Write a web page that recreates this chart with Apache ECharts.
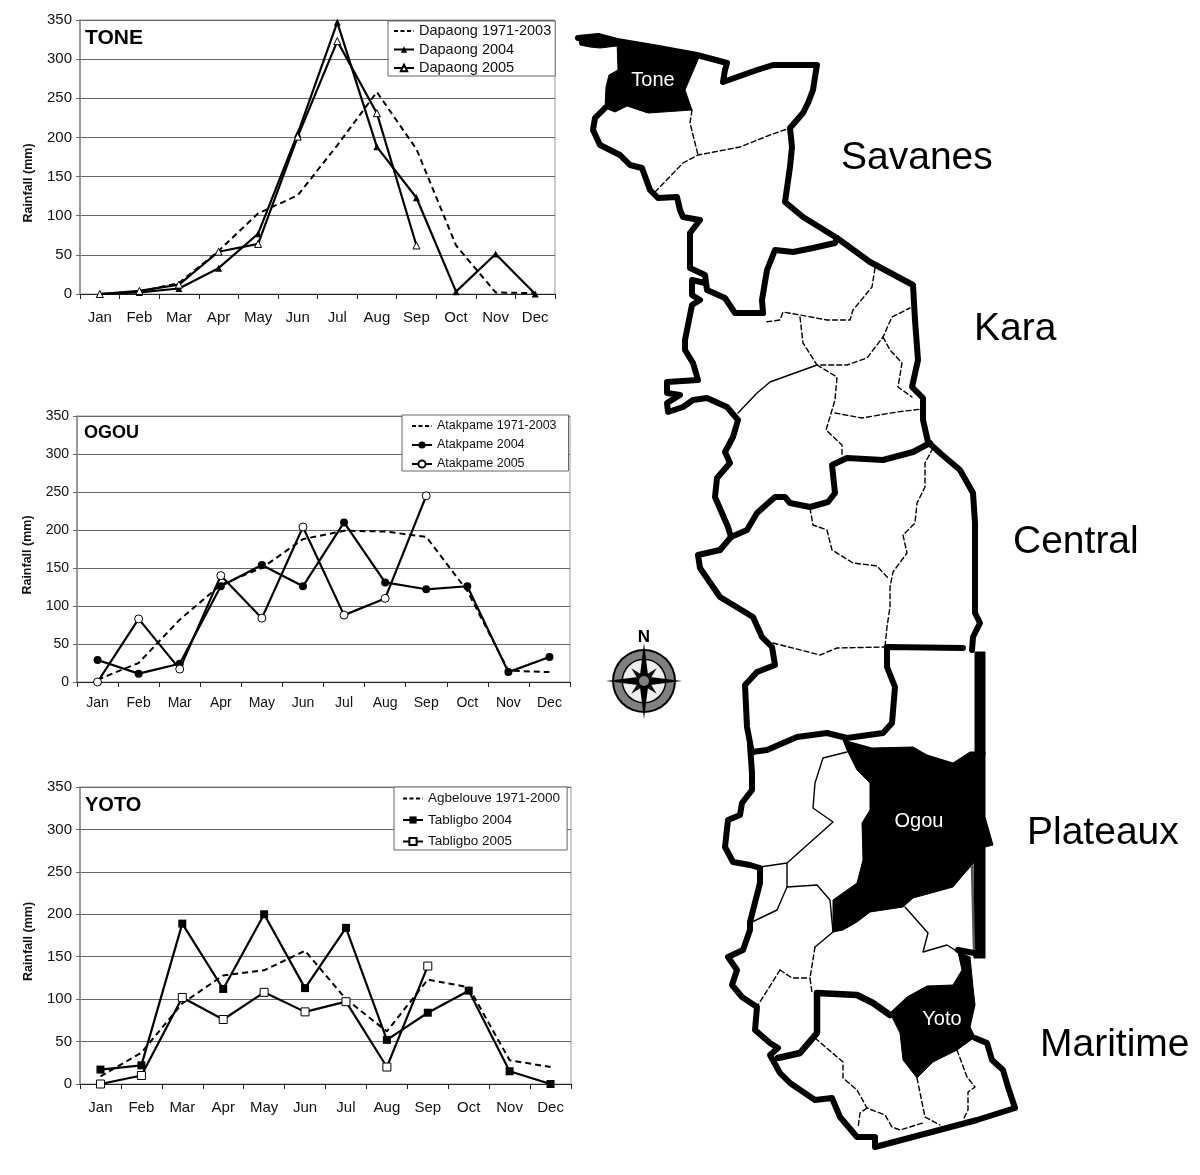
<!DOCTYPE html>
<html>
<head>
<meta charset="utf-8">
<script src="https://cdn.jsdelivr.net/npm/echarts@6/dist/echarts.min.js"></script>
<style>html,body{margin:0;padding:0;background:#fff}#c{width:1200px;height:1175px}</style>
</head>
<body>
<div id="c"></div>
<script>
const months = ['Jan','Feb','Mar','Apr','May','Jun','Jul','Aug','Sep','Oct','Nov','Dec'];

const dapaongNormal = [0,3,14,55,103,126,190,258,185,62,2,1];
const dapaong2004   = [0,2,7,33,77,205,347,188,123,3,51,0];
const dapaong2005   = [0,4,12,54,64,201,323,231,62,null,null,null];

const atakpameNormal = [3,25,82,128,150,188,199,198,191,120,15,13];
const atakpame2004   = [29,11,24,126,154,126,210,131,122,126,13,33];
const atakpame2005   = [0,83,17,140,84,204,88,110,245,null,null,null];

const agbelouveNormal = [9,37,95,128,134,157,100,62,123,114,28,20];
const tabligbo2004    = [17,22,189,112,200,113,184,52,84,110,15,0];
const tabligbo2005    = [0,10,102,76,108,85,97,20,139,null,null,null];

/* Map outlines (page pixels) */
const outerNorth = [[578,38],[598,36],[617,41],[653,47],[697,55],[727,63],[725,70],[723,82],[757,70],[773,65],[817,65],[815,77],[813,90],[808,103],[803,113],[790,128],[792,147],[790,167],[785,202],[803,217],[837,238],[870,262],[913,285],[915,320],[918,360],[912,387],[923,398],[923,420],[928,442],[940,453],[960,470],[973,493],[975,523],[975,613],[980,623],[973,637],[972,650]];
const savanesWest = [[605,108],[595,118],[593,130],[600,145],[620,155],[630,165],[642,168],[650,190],[658,198],[677,197],[680,210],[683,217],[700,220],[690,233],[690,268],[705,275],[707,290],[725,298],[735,313],[763,313]];
const savanesKara = [[763,313],[762,300],[767,270],[775,250],[793,252],[813,248],[835,243],[837,238]];
const karaWest = [[705,283],[692,280],[692,295],[700,300],[692,305],[685,340],[685,350],[693,363],[698,380],[667,382],[667,393],[680,395],[667,403],[668,412],[683,407],[693,400],[707,398],[727,407],[738,420],[733,437],[725,452],[730,463],[717,478],[715,497],[728,527],[731,537]];
const karaCentral = [[720,550],[731,537],[747,530],[757,513],[775,497],[785,497],[790,503],[810,507],[828,502],[835,493],[832,465],[847,458],[883,460],[913,452],[930,443]];
const centralWest = [[720,550],[698,555],[700,568],[720,597],[753,617],[762,637],[772,647],[775,665],[757,672],[745,685],[747,727],[752,753]];
const centralPlateaux = [[752,752],[767,750],[797,737],[827,733],[847,738],[883,733],[892,723],[895,687],[887,667],[887,647],[963,648]];
const plateauxWest = [[750,745],[752,773],[752,790],[742,803],[740,815],[728,820],[725,847],[733,862],[750,865],[760,868],[760,883],[750,922],[750,930],[743,950],[728,957],[737,970],[732,985],[742,997],[757,1007],[755,1030],[770,1043],[778,1048],[770,1055],[780,1073],[790,1083],[815,1100],[832,1098],[840,1117],[857,1137],[875,1137],[875,1147],[977,1120],[1015,1108],[1008,1087],[1003,1070],[992,1060],[987,1043],[975,1038]];
const plateauxMaritime = [[778,1058],[800,1053],[817,1033],[817,993],[857,995],[873,1003],[890,1015]];
const eastFoot = [[958,950],[974,953]];
const eastSliver = [[972,865],[974,950]];

const dashedLines = [
  [[692,110],[690,123],[698,155]],
  [[655,192],[683,163],[698,155],[740,147],[770,135],[790,128]],
  [[875,268],[872,287],[853,310],[850,320],[827,320],[800,315],[783,312],[780,320],[765,322]],
  [[800,317],[803,343],[817,365],[847,365],[867,358],[883,337],[892,317],[910,308]],
  [[883,337],[890,350],[902,363],[898,387],[912,397]],
  [[817,365],[837,377],[835,400],[826,430],[842,445],[842,458]],
  [[835,413],[862,418],[897,412],[922,409]],
  [[933,448],[925,463],[925,487],[917,503],[915,523],[903,535],[907,553],[893,572],[890,587],[890,607],[887,627],[885,647]],
  [[810,508],[813,525],[827,530],[832,550],[853,563],[877,566],[888,578]],
  [[773,643],[820,655],[837,648],[885,647]],
  [[815,947],[810,978],[812,993]],
  [[780,970],[758,1005]],
  [[780,970],[792,978],[810,978]],
  [[815,1038],[843,1062],[843,1078],[857,1090],[867,1108],[885,1115],[892,1127],[900,1130],[923,1123]],
  [[867,1108],[860,1113],[858,1128]],
  [[917,1078],[925,1117],[940,1125]],
  [[957,1050],[967,1077],[975,1087],[968,1092],[968,1110],[963,1120]]
];
const thinLines = [
  [[817,365],[770,382],[757,393],[738,413]],
  [[847,752],[823,758],[815,783],[813,808],[833,822],[787,863],[760,867]],
  [[787,863],[787,887],[777,910],[750,923]],
  [[787,887],[817,885],[830,900],[833,932],[815,947]],
  [[905,907],[928,933],[923,952],[947,945],[958,952]]
];
const tonePolygon = [[617,41],[700,55],[685,90],[692,110],[648,113],[627,106],[615,112],[605,108],[606,87],[609,75],[618,70]];
const ogouPolygon = [[843,740],[872,748],[913,747],[927,755],[953,763],[970,752],[985,752],[985,817],[993,845],[985,847],[972,865],[963,875],[953,887],[913,898],[903,907],[870,912],[857,922],[843,930],[833,932],[833,900],[857,883],[863,860],[862,823],[870,810],[870,783],[857,770],[847,750]];
const yotoPolygon = [[958,952],[970,957],[973,987],[975,1005],[970,1027],[975,1037],[957,1050],[933,1062],[917,1078],[903,1060],[900,1033],[890,1013],[907,997],[927,986],[953,985],[962,970]];
const nwBlobPolygon = [[578,36],[598,35],[617,40],[617,46],[600,48],[590,47],[580,45]];
const eastStripPolygon = [[975,652],[985,652],[985,755],[975,755]];
const eastLowerPolygon = [[974,847],[985,847],[985,958],[974,958]];

const regionLabels = [['Savanes',841,158],['Kara',974,329],['Central',1013,542],['Plateaux',1027,833],['Maritime',1040,1045]];
const prefectureLabels = [['Tone',653,80],['Ogou',919,821],['Yoto',942,1019]];

const FONT = '"Liberation Sans", Arial, sans-serif';

const grids = [
  {left:0, top:0, width:1200, height:1175},
  {left:80, top:20, width:475, height:274, show:true, borderColor:'#999', borderWidth:1, backgroundColor:'transparent'},
  {left:77, top:416, width:493, height:266, show:true, borderColor:'#999', borderWidth:1, backgroundColor:'transparent'},
  {left:80, top:787, width:491, height:297, show:true, borderColor:'#999', borderWidth:1, backgroundColor:'transparent'}
];
const fonts = [15,14,15];
const xAxes = [{gridIndex:0,type:'value',min:0,max:1200,show:false}];
const yAxes = [{gridIndex:0,type:'value',min:0,max:1175,inverse:true,show:false}];
[1,2,3].forEach((g,i)=>{
  xAxes.push({gridIndex:g,type:'category',data:months,boundaryGap:true,
    axisLine:{show:true,onZero:false,lineStyle:{color:'#222',width:1}},
    axisTick:{show:true,length:5,alignWithLabel:false,lineStyle:{color:'#222'}},
    axisLabel:{interval:0,color:'#111',fontFamily:FONT,fontSize:fonts[i],margin:[16,14,16][i]},
    splitLine:{show:false}});
  yAxes.push({gridIndex:g,type:'value',min:0,max:350,interval:50,
    name:'Rainfall (mm)',nameLocation:'middle',nameGap:[45,43,45][i],
    nameTextStyle:{color:'#111',fontFamily:FONT,fontWeight:'bold',fontSize:12.5,padding:[0,[52,12,12][i],0,0]},
    axisLine:{show:true,lineStyle:{color:'#888',width:1.5}},
    axisTick:{show:true,length:4,lineStyle:{color:'#666'}},
    axisLabel:{color:'#111',fontFamily:FONT,fontSize:fonts[i],margin:8,padding:[2,0,0,0]},
    splitLine:{show:true,lineStyle:{color:'#666',width:1}}});
});

function lineSeries(name,g,data,dashed,symbol,size,open){
  return {name,type:'line',xAxisIndex:g,yAxisIndex:g,data,z:3,
    connectNulls:false,showSymbol:!dashed,showAllSymbol:true,
    symbol:dashed?'none':symbol,symbolSize:size,
    lineStyle:{color:'#000',width:dashed?2:2.2,type:dashed?[6,4]:'solid'},
    itemStyle:{color:open?'#fff':'#000',borderColor:'#000',borderWidth:open?1:0},
    animation:false};
}
function outline(name,pts,width,type){
  return {name,type:'line',xAxisIndex:0,yAxisIndex:0,data:pts,z:2,silent:true,
    showSymbol:false,symbol:'none',
    lineStyle:{color:'#000',width:width,type:type||'solid',cap:'round',join:'round'},animation:false};
}
function solid(name,pts){
  return {name,type:'custom',xAxisIndex:0,yAxisIndex:0,coordinateSystem:'cartesian2d',data:[0],z:2,silent:true,
    renderItem:(p,api)=>({type:'polygon',shape:{points:pts.map(q=>api.coord(q))},style:{fill:'#000',stroke:'#000',lineWidth:1}}),
    animation:false};
}

const series = [
  solid('Tone',tonePolygon),solid('Ogou',ogouPolygon),solid('Yoto',yotoPolygon),
  solid('NW tip',nwBlobPolygon),solid('East strip',eastStripPolygon),solid('East lower',eastLowerPolygon),
  outline('n',outerNorth,6),outline('sw',savanesWest,6),outline('sk',savanesKara,6),
  outline('kw',karaWest,6),outline('kc',karaCentral,6),outline('cw',centralWest,6),
  outline('cp',centralPlateaux,6),outline('pw',plateauxWest,6),outline('pm',plateauxMaritime,6.5),
  outline('ef',eastFoot,6),
  {...outline('es',eastSliver,2.5),lineStyle:{color:'#555',width:2.5}},
  ...dashedLines.map((l,i)=>outline('d'+i,l,1.4,[5,3])),
  ...thinLines.map((l,i)=>outline('t'+i,l,1.4)),
  lineSeries('Dapaong 1971-2003',1,dapaongNormal,true),
  lineSeries('Dapaong 2004',1,dapaong2004,false,'triangle',7,false),
  lineSeries('Dapaong 2005',1,dapaong2005,false,'triangle',7,true),
  lineSeries('Atakpame 1971-2003',2,atakpameNormal,true),
  lineSeries('Atakpame 2004',2,atakpame2004,false,'circle',8,false),
  lineSeries('Atakpame 2005',2,atakpame2005,false,'circle',8,true),
  lineSeries('Agbelouve 1971-2000',3,agbelouveNormal,true),
  lineSeries('Tabligbo 2004',3,tabligbo2004,false,'rect',8,false),
  lineSeries('Tabligbo 2005',3,tabligbo2005,false,'rect',8,true)
];

function legend(names,left,top,size,gap,pad,h){
  const dashItem = {name:names[0],itemStyle:{opacity:0},lineStyle:{type:[4,2.5],width:2}};
  return {data:[dashItem,names[1],names[2]],orient:'vertical',left,top,padding:pad,itemGap:gap,itemWidth:20,itemHeight:h,
    backgroundColor:'#fff',borderColor:'#666',borderWidth:1,borderRadius:0,
    textStyle:{color:'#111',fontFamily:FONT,fontSize:size},selectedMode:false};
}
const legends = [
  legend(['Dapaong 1971-2003','Dapaong 2004','Dapaong 2005'],388,21,14.5,3.5,[2.5,4,0.5,5],8),
  legend(['Atakpame 1971-2003','Atakpame 2004','Atakpame 2005'],402,415,12.5,6,[4.5,12,0.5,9],9),
  legend(['Agbelouve 1971-2000','Tabligbo 2004','Tabligbo 2005'],394,787,13.5,7.5,[4.5,7,1.5,8],9)
];

/* compass built around a centre */
const cx=644, cy=681;
function star(r,w,rot){
  const pts=[];
  for(let i=0;i<4;i++){
    const a=rot+i*Math.PI/2;
    pts.push([cx+r*Math.sin(a),cy-r*Math.cos(a)]);
    const b=a+Math.PI/4;
    pts.push([cx+w*Math.sin(b),cy-w*Math.cos(b)]);
  }
  return pts;
}
const graphic = [
  {type:'circle',z:5,shape:{cx,cy,r:32},style:{fill:'#000'}},
  {type:'circle',z:5,shape:{cx,cy,r:30},style:{fill:'#808080'}},
  {type:'circle',z:5,shape:{cx,cy,r:22.5},style:{fill:'#000'}},
  {type:'circle',z:5,shape:{cx,cy,r:21},style:{fill:'#eee'}},
  {type:'polygon',z:5,shape:{points:star(18,5,Math.PI/4)},style:{fill:'#111'}},
  {type:'polygon',z:5,shape:{points:star(38,6,0)},style:{fill:'#000'}},
  {type:'circle',z:5,shape:{cx,cy,r:5},style:{fill:'#808080'}},
  {type:'text',z:5,x:cx,y:637,style:{text:'N',fill:'#000',font:'bold 17px "Liberation Sans"',align:'center',verticalAlign:'middle'}},
  {type:'text',z:6,x:85,y:38,style:{text:'TONE',fill:'#000',font:'bold 21px "Liberation Sans"',verticalAlign:'middle'}},
  {type:'text',z:6,x:84,y:433,style:{text:'OGOU',fill:'#000',font:'bold 18px "Liberation Sans"',verticalAlign:'middle'}},
  {type:'text',z:6,x:85,y:805,style:{text:'YOTO',fill:'#000',font:'bold 20px "Liberation Sans"',verticalAlign:'middle'}},
  ...regionLabels.map(r=>({type:'text',z:6,x:r[1],y:r[2],style:{text:r[0],fill:'#000',font:'39px "Liberation Sans"',verticalAlign:'middle'}})),
  ...prefectureLabels.map(r=>({type:'text',z:6,x:r[1],y:r[2],style:{text:r[0],fill:'#fff',font:'20px "Liberation Sans"',align:'center',verticalAlign:'middle'}}))
];

const chart = echarts.init(document.getElementById('c'),null,{renderer:'canvas'});
chart.setOption({animation:false,backgroundColor:'#fff',tooltip:{show:false},
  grid:grids,xAxis:xAxes,yAxis:yAxes,series,legend:legends,graphic});
</script>
</body>
</html>
